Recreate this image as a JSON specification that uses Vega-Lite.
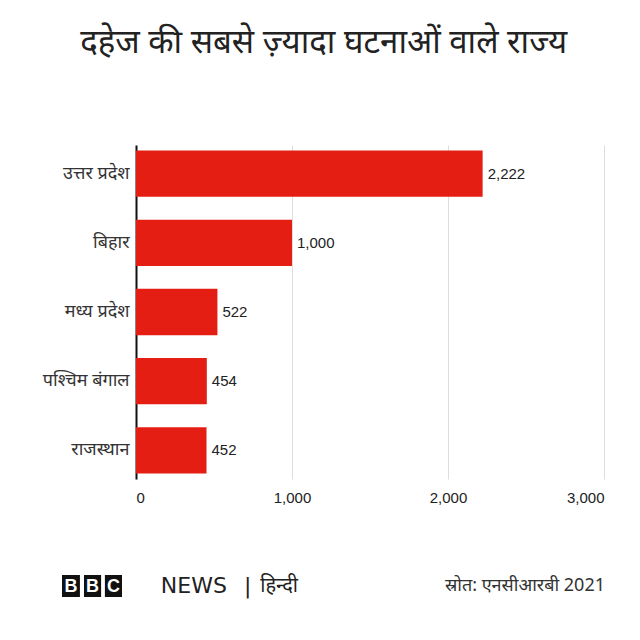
{
  "$schema": "https://vega.github.io/schema/vega-lite/v6.json",
  "background": "white",
  "padding": {"left": 42, "top": 27, "right": 10, "bottom": 10},
  "title": {
    "text": "दहेज की सबसे ज़्यादा घटनाओं वाले राज्य",
    "fontSize": 33,
    "fontWeight": "normal",
    "color": "#222222",
    "anchor": "middle",
    "offset": 85
  },
  "config": {
    "view": {"stroke": null},
    "font": "Noto Sans",
    "concat": {"spacing": 70}
  },
  "vconcat": [
    {
      "width": 468,
      "height": 334,
      "data": {
        "values": [
          {"state": "उत्तर प्रदेश", "value": 2222},
          {"state": "बिहार", "value": 1000},
          {"state": "मध्य प्रदेश", "value": 522},
          {"state": "पश्चिम बंगाल", "value": 454},
          {"state": "राजस्थान", "value": 452}
        ]
      },
      "encoding": {
        "y": {
          "field": "state",
          "type": "nominal",
          "sort": null,
          "scale": {"paddingInner": 0.33, "paddingOuter": 0.08},
          "axis": {
            "title": null,
            "ticks": false,
            "labelFontSize": 18,
            "labelColor": "#333333",
            "labelPadding": 7,
            "domainColor": "#111111",
            "domainWidth": 2
          }
        }
      },
      "layer": [
        {
          "mark": {"type": "bar", "color": "#e41e13"},
          "encoding": {
            "x": {
              "field": "value",
              "type": "quantitative",
              "scale": {"domain": [0, 3000]},
              "axis": {
                "title": null,
                "values": [0, 1000, 2000, 3000],
                "format": ",d",
                "grid": true,
                "gridColor": "#dddddd",
                "domain": false,
                "ticks": false,
                "labelFont": "Liberation Sans",
                "labelFontSize": 15,
                "labelColor": "#222222",
                "labelPadding": 11
              }
            }
          }
        },
        {
          "mark": {"type": "text", "align": "left", "dx": 5, "font": "Liberation Sans", "fontSize": 15, "color": "#222222"},
          "encoding": {
            "x": {"field": "value", "type": "quantitative"},
            "text": {"field": "value", "type": "quantitative", "format": ",d"}
          }
        }
      ]
    },
    {
      "width": 468,
      "height": 22,
      "data": {
        "values": [
          {"kind": "box", "label": "B", "start": 0, "stop": 3.3, "mid": 1.65},
          {"kind": "box", "label": "B", "start": 4.05, "stop": 7.2, "mid": 5.6},
          {"kind": "box", "label": "C", "start": 7.9, "stop": 11.05, "mid": 9.5},
          {"kind": "word", "label": "NEWS", "start": 18.2},
          {"kind": "sep", "label": "|", "start": 34.2},
          {"kind": "hindi", "label": "हिन्दी", "start": 36.5},
          {"kind": "source", "label": "स्रोत: एनसीआरबी 2021", "start": 100}
        ]
      },
      "layer": [
        {
          "transform": [{"filter": "datum.kind === 'box'"}],
          "mark": {"type": "rect", "color": "#111111", "clip": false},
          "encoding": {
            "x": {"field": "start", "type": "quantitative", "scale": {"domain": [0, 100], "range": [-74, 469], "zero": false}, "axis": null},
            "x2": {"field": "stop"}
          }
        },
        {
          "transform": [{"filter": "datum.kind === 'box'"}],
          "mark": {"type": "text", "color": "white", "font": "Liberation Sans", "fontSize": 18, "fontWeight": "bold", "align": "center", "baseline": "middle", "dy": 1, "clip": false},
          "encoding": {
            "x": {"field": "mid", "type": "quantitative"},
            "text": {"field": "label"}
          }
        },
        {
          "transform": [{"filter": "datum.kind === 'word'"}],
          "mark": {"type": "text", "color": "#222222", "font": "DejaVu Sans", "fontSize": 22, "align": "left", "baseline": "middle", "clip": false},
          "encoding": {
            "x": {"field": "start", "type": "quantitative"},
            "text": {"field": "label"}
          }
        },
        {
          "transform": [{"filter": "datum.kind === 'sep'"}],
          "mark": {"type": "text", "color": "#222222", "font": "DejaVu Sans", "fontSize": 22, "align": "center", "baseline": "middle", "clip": false},
          "encoding": {
            "x": {"field": "start", "type": "quantitative"},
            "text": {"field": "label"}
          }
        },
        {
          "transform": [{"filter": "datum.kind === 'hindi'"}],
          "mark": {"type": "text", "color": "#222222", "fontSize": 20, "align": "left", "baseline": "middle", "clip": false},
          "encoding": {
            "x": {"field": "start", "type": "quantitative"},
            "text": {"field": "label"}
          }
        },
        {
          "transform": [{"filter": "datum.kind === 'source'"}],
          "mark": {"type": "text", "color": "#333333", "fontSize": 18, "align": "right", "baseline": "middle", "clip": false},
          "encoding": {
            "x": {"field": "start", "type": "quantitative"},
            "text": {"field": "label"}
          }
        }
      ]
    }
  ]
}
